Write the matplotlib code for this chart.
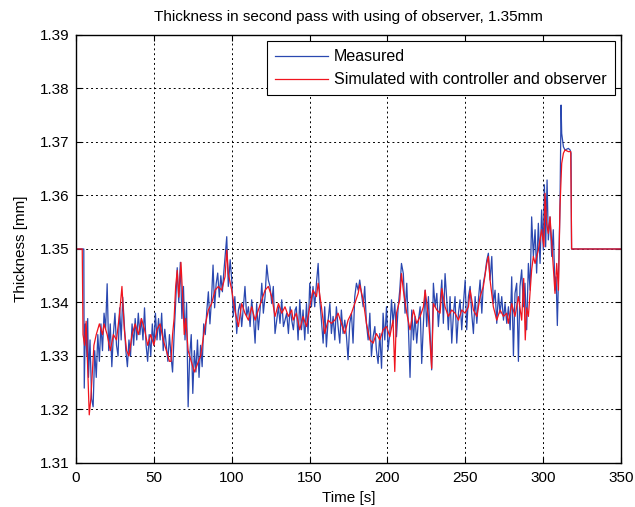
import matplotlib
matplotlib.use("Agg")
import matplotlib.pyplot as plt
import numpy as np

plt.rcParams['font.family'] = ['Liberation Sans', 'DejaVu Sans']

# ---- data (thickness in micrometres, converted to mm below) ----
measured_t = [0, 5, 5.3, 6, 7, 7.5, 8, 9, 10, 11, 12, 13, 14, 15, 16, 17, 18, 19, 20, 21, 22, 23, 24, 25,
              26, 27, 28, 29, 30, 31, 32, 33, 34, 35, 36, 37, 38, 39, 40, 41, 42, 43, 44, 45, 46, 47, 48,
              49, 50, 51, 52, 53, 54, 55, 56, 57, 58, 59, 60, 61, 62, 63, 64, 65, 66, 67, 68, 69, 70, 71,
              72, 73, 74, 75, 76, 77, 78, 79, 80, 81, 82, 83, 84, 85, 86, 87, 88, 89, 90, 91, 92, 93, 94,
              95, 96.8, 97.8, 99, 100, 101, 102, 103.2, 104.3, 105.3, 106.4, 107.5, 108.5, 109.6, 110.7,
              111.8, 112.8, 113.9, 115, 116, 117.1, 118.2, 119.3, 120.3, 121.4, 122.5, 123.5, 124.6,
              125.7, 126.7, 127.8, 128.9, 130, 131, 132.1, 133.2, 134.2, 135.3, 136.4, 137.5, 138.5,
              139.6, 140.7, 141.5, 142.6, 143.7, 144.8, 145.8, 146.9, 148, 149, 150.1, 151.2, 152.2,
              153.3, 154.4, 155.5, 156.5, 157.6, 158.7, 159.7, 160.8, 161.9, 163, 164, 165.1, 166.2,
              167.2, 168.3, 169.4, 170.4, 171.5, 172.6, 173.7, 174.7, 175.8, 176.9, 177.9, 179, 180.1,
              181.2, 182.2, 183.3, 184.4, 185.4, 186.5, 187.6, 188.7, 189.7, 190.8, 191.9, 192.9, 194,
              195.1, 196.2, 197.2, 198.3, 199.4, 200.4, 201.5, 202.6, 203.6, 204.7, 205.8, 206.9, 207.9,
              209, 210.2, 211.3, 212.4, 213.5, 214.5, 215.6, 216.7, 217.7, 218.8, 219.9, 221, 222, 223.1,
              224.2, 225.2, 226.3, 227.4, 228.4, 229.5, 230.6, 231.7, 232.7, 233.8, 234.9, 235.9, 237,
              238.1, 239.1, 240.2, 241.3, 242.4, 243.4, 244.5, 245.6, 246.6, 247.7, 248.8, 249.9, 250.9,
              252, 253.1, 254.1, 255.2, 256.3, 257.4, 258.4, 259.5, 260.6, 261.6, 262.7, 263.8, 264.8,
              265.9, 267, 268, 269.1, 270.2, 271.3, 272.3, 273.4, 274.5, 275.5, 276.6, 277.7, 278.8,
              279.8, 280.9, 281.9, 283, 284.1, 285.1, 286.2, 287.3, 288.3, 289.4, 290.5, 291.6, 292.6,
              293.7, 294.8, 295.8, 296.9, 298, 299, 300.1, 300.8, 301.6, 302.5, 303.3, 304.4, 305.5,
              306.5, 307.6, 308.3, 309.1, 309.8, 310.8, 311.5, 311.9, 313, 314, 316.2, 317.3, 317.9,
              318.2, 350]
measured_um = [1350, 1350, 1324, 1336, 1330, 1337, 1326, 1333, 1322, 1320.5, 1331, 1326, 1334, 1329,
               1336, 1331, 1338, 1335, 1343.5, 1331, 1336, 1328, 1334, 1338, 1332, 1330, 1339, 1333,
               1341, 1336, 1331, 1328, 1333, 1330, 1336, 1332, 1337, 1333, 1338, 1334, 1337, 1333, 1339,
               1332, 1329, 1334, 1330, 1336, 1332, 1338, 1333, 1337, 1333, 1338, 1331, 1335, 1332, 1329,
               1334, 1330, 1327, 1334, 1340, 1346.5, 1340, 1347.5, 1337, 1343, 1333, 1340, 1320.5, 1330,
               1334, 1323, 1331, 1327, 1333, 1326, 1332, 1328, 1336, 1334, 1338.5, 1342, 1336, 1340.5,
               1347, 1339, 1343.5, 1345.5, 1341, 1345, 1342, 1346, 1352.3, 1343, 1348, 1344.2, 1337.4,
               1341.1, 1334.2, 1338.6, 1339.8, 1335.5, 1339.2, 1343, 1337.4, 1339.2, 1335.5, 1340.5,
               1337.4, 1332.4, 1339.8, 1334.9, 1338.6, 1343.6, 1338, 1341.1, 1347, 1344.2, 1343, 1339.8,
               1343, 1334.2, 1336.7, 1339.2, 1336.1, 1340.5, 1335.5, 1336.7, 1338, 1334.2, 1339.2,
               1336.7, 1334.9, 1338.6, 1339.2, 1333, 1340.5, 1334.9, 1338.6, 1333, 1339.8, 1334.2,
               1343.6, 1339.2, 1343, 1339.2, 1343.6, 1347.3, 1340.5, 1336.7, 1332.4, 1339.2, 1331.7,
               1336.7, 1339.8, 1334.2, 1337.4, 1333, 1339.2, 1335.5, 1332.4, 1338.6, 1334.2, 1336.7,
               1333.6, 1329.3, 1336.1, 1338, 1332.4, 1341.1, 1343.6, 1342.3, 1344.2, 1341.7, 1339.2,
               1343, 1336.1, 1333, 1338, 1329.9, 1333.6, 1335.5, 1331.1, 1328.6, 1334.2, 1327.7, 1338,
               1333, 1339.2, 1331.1, 1334.2, 1340.5, 1336.1, 1339.8, 1333.6, 1339.2, 1342.3, 1347.3,
               1345.4, 1338, 1343.6, 1334.9, 1326, 1338.6, 1333, 1337.4, 1332.4, 1336.7, 1339.2, 1328.6,
               1336.1, 1342.3, 1335.5, 1341.1, 1334.2, 1327.4, 1343.6, 1339.2, 1341.7, 1335.5, 1339.8,
               1344.2, 1336.1, 1345.4, 1340.5, 1334.9, 1341.1, 1332.4, 1338, 1341.1, 1332.4, 1338,
               1340.5, 1334.9, 1339.8, 1344.2, 1334.9, 1341.1, 1343, 1338, 1334.2, 1341.1, 1336.1,
               1340.5, 1344.2, 1338, 1343.6, 1345.4, 1347.9, 1349.2, 1344.2, 1348.6, 1339.8, 1342.3,
               1336.1, 1341.7, 1338, 1341.1, 1336.7, 1339.8, 1336.1, 1339.2, 1334.9, 1344.8, 1330,
               1341.7, 1343.6, 1329, 1343, 1346.1, 1339.2, 1343.6, 1334.9, 1347.3, 1342.3, 1356, 1348.6,
               1353.6, 1345.5, 1354.8, 1347.3, 1357.3, 1349.8, 1362, 1350.4, 1362.9, 1351.7, 1356,
               1348.6, 1353.6, 1342.3, 1344.8, 1335.7, 1344.2, 1357.9, 1376.9, 1371.6, 1369.1, 1368.5,
               1368.8, 1368.5, 1367.9, 1350, 1350]

simulated_t = [0, 4, 4.5, 5.5, 6.5, 7.5, 8.5, 9.5, 10.5, 11.5, 13, 15, 17, 18, 20, 22, 24, 26, 28, 29.5,
               31, 32.5, 34, 36, 38, 40, 42, 44, 46, 48, 50, 52, 54, 56, 58, 60, 61, 62, 63, 64, 65, 66,
               67.4, 68.5, 69.5, 70.5, 72, 74, 76, 78, 80, 82.8, 85, 87.1, 89.3, 91.4, 93.5, 95.7, 96.8,
               97.8, 100, 102, 104.3, 106.4, 108.5, 110.7, 112.8, 115, 117.1, 119.3, 121.4, 123.5, 125.7,
               127.8, 130, 132.1, 134.2, 136.4, 138.5, 139.4, 141.5, 143.7, 145.8, 148, 150.1, 152.2,
               154.4, 155.5, 157.6, 159.7, 161.9, 164, 166.2, 168.3, 170.4, 172.6, 174.7, 176.9, 179,
               181.2, 182.2, 184.4, 186.5, 188.7, 190.8, 192.9, 195.1, 197.2, 199.4, 201.5, 203.6, 204.7,
               205.8, 207.9, 209, 210.2, 212.4, 214.5, 216.7, 218.8, 221, 223.1, 224.2, 226.3, 228.4,
               229.5, 231.7, 233.8, 234.9, 237, 239.1, 241.3, 243.4, 245.6, 247.7, 249.9, 252, 253.1,
               255.2, 257.4, 259.5, 261.6, 263.8, 264.8, 265.9, 268, 270.2, 272.3, 274.5, 276.6, 277.6,
               279.8, 281.9, 284.1, 286.2, 287.5, 288.5, 289.4, 290.5, 292.6, 293.7, 294.8, 296.9, 299,
               300.5, 301.2, 302.2, 303.3, 304.4, 305.5, 307.6, 308.7, 309.8, 310.8, 311.9, 313, 314,
               316.2, 317.7, 318.3, 350]
simulated_um = [1350, 1350, 1334, 1332, 1336.5, 1328, 1319, 1322, 1327, 1332, 1334, 1336, 1334, 1336,
                1334, 1331, 1334, 1333, 1338, 1343, 1335, 1331, 1330, 1334, 1336, 1334, 1337, 1335, 1332,
                1334, 1332, 1335, 1336, 1333, 1331, 1329, 1329, 1334, 1337, 1343, 1346, 1341, 1347.5,
                1341, 1334, 1337, 1331, 1329, 1327, 1328.5, 1330, 1335.5, 1338.6, 1339.8, 1342.3, 1343,
                1342.3, 1344.8, 1349.8, 1345.4, 1342.3, 1338.6, 1335.5, 1339.8, 1338, 1336.7, 1339.2,
                1336.7, 1338.6, 1340.5, 1342.3, 1343, 1341.1, 1337.4, 1339.8, 1338, 1339.2, 1337.4,
                1338.6, 1336.7, 1338, 1334.9, 1337.4, 1335.5, 1339.2, 1342.3, 1341.1, 1343.6, 1339.2,
                1334.2, 1336.7, 1336.1, 1336.7, 1338, 1336.1, 1334.2, 1336.7, 1338, 1339.8, 1341.7,
                1343.3, 1340.5, 1336.1, 1333, 1332.4, 1334.2, 1333, 1334.9, 1335.5, 1333.6, 1336.7,
                1327.1, 1338, 1340.5, 1345.4, 1342.3, 1338, 1334.9, 1338.6, 1336.1, 1337.4, 1339.2,
                1342.3, 1337.4, 1327.7, 1339.8, 1338.6, 1338, 1342.6, 1339.2, 1337.4, 1338.6, 1338,
                1336.7, 1338.6, 1338, 1339.2, 1342.3, 1338.6, 1337.4, 1341.1, 1343, 1347.3, 1348.6,
                1344.2, 1339.2, 1336.7, 1338.6, 1337.4, 1338, 1336.1, 1339.8, 1337.4, 1341.1, 1336.7,
                1344.5, 1333, 1339, 1337.4, 1346.1, 1348.6, 1347.3, 1349.8, 1353.6, 1350.4, 1360.4,
                1354.8, 1352.9, 1356, 1351.1, 1341.7, 1347.3, 1342.3, 1357.9, 1366, 1367.9, 1368.5,
                1368.2, 1368.2, 1350, 1350]

x_ticks = [0, 50, 100, 150, 200, 250, 300, 350]
y_ticks = [1.31, 1.32, 1.33, 1.34, 1.35, 1.36, 1.37, 1.38, 1.39]

measured = np.array(measured_um) / 1000.0
simulated = np.array(simulated_um) / 1000.0

fig = plt.figure(figsize=(6.35, 5.07), dpi=100)
ax = fig.add_axes([0.1197, 0.0868, 0.8583, 0.8442])

ax.plot(measured_t, measured, color='#2a48b0', lw=0.9, label='Measured')
ax.plot(simulated_t, simulated, color='#f0141e', lw=0.9, label='Simulated with controller and observer')

ax.set_xlim(0, 350)
ax.set_ylim(1.31, 1.39)
ax.set_xticks(x_ticks)
ax.set_yticks(y_ticks)
ax.set_yticklabels([f"{v:.2f}" for v in y_ticks])
ax.grid(True, color='black', linestyle=(0, (2, 3)), linewidth=0.7)
ax.tick_params(direction='in', top=True, right=True, length=4, width=0.8, labelsize=11)
ax.tick_params(axis='x', pad=6)
ax.tick_params(axis='y', pad=5)
for s in ax.spines.values():
    s.set_linewidth(1.0)
    s.set_color('black')

ax.set_title('Thickness in second pass with using of observer, 1.35mm', fontsize=11, pad=10)
ax.set_xlabel('Time [s]', fontsize=11, labelpad=4)
ax.set_ylabel('Thickness [mm]', fontsize=11, labelpad=8)

leg = ax.legend(loc='upper right', fontsize=11.5, frameon=True, fancybox=False,
                edgecolor='black', framealpha=1, handlelength=3.3, handletextpad=0.4,
                borderaxespad=0.4, borderpad=0.5, labelspacing=0.5)
leg.get_frame().set_linewidth(0.8)

fig.savefig('out.png', dpi=100)
